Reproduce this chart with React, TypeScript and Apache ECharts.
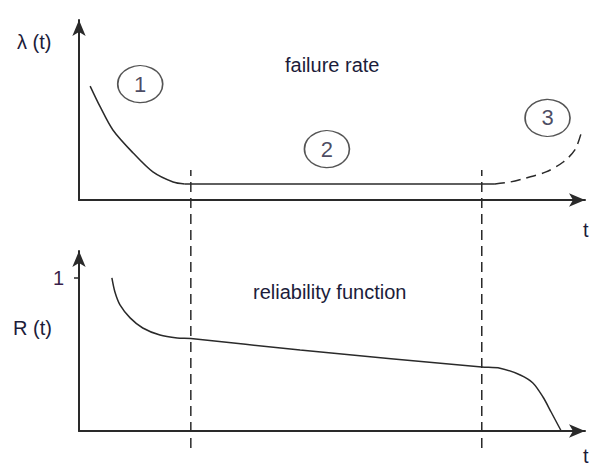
import React, { useEffect, useRef } from 'react';
import * as echarts from 'echarts';

// Failure rate λ(t) — phase 1 (early failures), phase 2 (useful life), phase 3 (wear-out)
const failureEarly: number[][] = [[2.2, 63.3], [4.2, 51.7], [6.7, 38.9], [10.7, 26.1], [14.6, 15.6], [18.6, 10.0], [20.9, 8.9]];
const failureUseful: number[][] = [[20.9, 8.9], [82.2, 8.9]];
const failureWearOut: number[][] = [[82.2, 8.9], [85.2, 10.0], [88.3, 12.2], [92.3, 15.6], [95.7, 21.1], [98.0, 27.8], [99.2, 36.7]];

// Reliability function R(t)
const reliability: number[][] = [
  [6.5, 1.0], [7.1, 0.908], [8.1, 0.824], [10.1, 0.739], [12.6, 0.673], [16.0, 0.627], [19.4, 0.608], [22.1, 0.604],
  [43.7, 0.529], [79.6, 0.418], [83.2, 0.41], [87.2, 0.366], [89.7, 0.314], [91.7, 0.222], [93.3, 0.124], [95.3, 0],
];

// Phase boundaries and phase markers
const phaseBounds: number[] = [22.1, 79.6];
const phaseLabels: string[] = ['1', '2', '3'];
const phaseMarks: number[][] = [[12.1, 64.4], [49.0, 28.3], [92.6, 45.6]];

const rTicks: number[] = [1];

const FONT = 'Liberation Sans, Arial, sans-serif';
const INK = '#1c1c3a';
const LINE = '#2a2a2a';

export default function App() {
  const ref = useRef<HTMLDivElement>(null);
  useEffect(() => {
    if (!ref.current) return;
    const chart = echarts.init(ref.current, undefined, { renderer: 'svg' });
    const axisLine = {
      show: true,
      symbol: ['none', 'arrow'],
      symbolSize: [10, 16],
      lineStyle: { color: LINE, width: 2 },
    };
    const hiddenX = (gridIndex: number) => ({
      type: 'value', gridIndex, min: 0, max: 100,
      axisLine, axisTick: { show: false }, axisLabel: { show: false }, splitLine: { show: false },
    });
    const option: any = {
      animation: false,
      backgroundColor: '#fff',
      grid: [
        { left: 79, top: 20, width: 506, height: 180 },
        { left: 79, top: 251, width: 506, height: 180 },
        { left: 79, top: 170, width: 506, height: 278 },
      ],
      xAxis: [
        hiddenX(0),
        hiddenX(1),
        { type: 'value', gridIndex: 2, min: 0, max: 100, show: false },
      ],
      yAxis: [
        {
          type: 'value', gridIndex: 0, min: 0, max: 100,
          axisLine, axisTick: { show: false }, axisLabel: { show: false }, splitLine: { show: false },
        },
        {
          type: 'value', gridIndex: 1, min: 0, max: 1.176,
          axisLine,
          axisTick: { show: true, customValues: rTicks, length: 5, lineStyle: { color: LINE, width: 1.5 } },
          axisLabel: {
            show: true, customValues: rTicks, margin: 15,
            color: '#3a1f4a', fontSize: 20, fontFamily: FONT,
            formatter: (v: number) => String(v),
          },
          splitLine: { show: false },
        },
        { type: 'value', gridIndex: 2, min: 0, max: 1, show: false },
      ],
      series: [
        {
          type: 'line', xAxisIndex: 0, yAxisIndex: 0, data: failureEarly, smooth: 0.3,
          symbol: 'none', lineStyle: { color: LINE, width: 1.5 },
        },
        {
          type: 'line', xAxisIndex: 0, yAxisIndex: 0, data: failureUseful,
          symbol: 'none', lineStyle: { color: LINE, width: 1.5 },
        },
        {
          type: 'line', xAxisIndex: 0, yAxisIndex: 0, data: failureWearOut, smooth: 0.3,
          symbol: 'none', lineStyle: { color: LINE, width: 1.5, type: [10, 6] },
        },
        {
          type: 'scatter', xAxisIndex: 0, yAxisIndex: 0,
          data: phaseMarks.map((p, i) => ({ value: p, name: phaseLabels[i] })),
          symbol: 'circle', symbolSize: [45, 37],
          itemStyle: { color: 'rgba(255,255,255,0)', borderColor: LINE, borderWidth: 1.5 },
          label: {
            show: true, position: 'inside', formatter: (p: any) => p.name,
            color: INK, fontSize: 22, fontFamily: FONT,
          },
        },
        {
          type: 'line', xAxisIndex: 1, yAxisIndex: 1, data: reliability, smooth: 0.3,
          symbol: 'none', lineStyle: { color: LINE, width: 1.5 },
        },
        ...phaseBounds.map((b) => ({
          type: 'line', xAxisIndex: 2, yAxisIndex: 2, data: [[b, 0], [b, 1]],
          symbol: 'none', lineStyle: { color: LINE, width: 1.5, type: [10, 6] },
        })),
      ],
      graphic: [
        { type: 'text', x: 17, y: 42, style: { text: 'λ (t)', fill: INK, fontSize: 20, fontFamily: FONT, verticalAlign: 'middle' } },
        { type: 'text', x: 285, y: 65, style: { text: 'failure rate', fill: INK, fontSize: 20, fontFamily: FONT, verticalAlign: 'middle' } },
        { type: 'text', x: 583, y: 230, style: { text: 't', fill: INK, fontSize: 20, fontFamily: FONT, verticalAlign: 'middle' } },
        { type: 'text', x: 13, y: 328, style: { text: 'R (t)', fill: INK, fontSize: 20, fontFamily: FONT, verticalAlign: 'middle' } },
        { type: 'text', x: 253, y: 292, style: { text: 'reliability function', fill: INK, fontSize: 20, fontFamily: FONT, verticalAlign: 'middle' } },
        { type: 'text', x: 583, y: 456, style: { text: 't', fill: INK, fontSize: 20, fontFamily: FONT, verticalAlign: 'middle' } },
      ],
    };
    chart.setOption(option);
    return () => chart.dispose();
  }, []);
  return <div ref={ref} style={{ position: 'fixed', left: 0, top: 0, width: 593, height: 468, background: '#fff' }} />;
}
